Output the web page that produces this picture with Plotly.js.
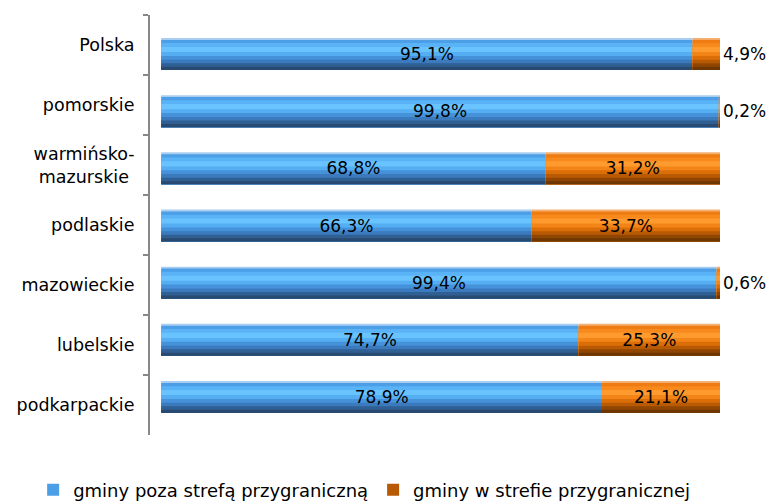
<!DOCTYPE html>
<html>
<head>
<meta charset="utf-8">
<script src="https://cdn.plot.ly/plotly-3.0.1.min.js"></script>
<style>html,body{margin:0;padding:0;background:#fff;}</style>
</head>
<body>
<div id="chart" style="width:770px;height:503px;"></div>
<script>
// ---- data ----
const categories = ["Polska", "pomorskie", "warmińsko-<br>mazurskie\u00a0", "podlaskie", "mazowieckie", "lubelskie", "podkarpackie"];
const outsideZone = [95.1, 99.8, 68.8, 66.3, 99.4, 74.7, 78.9];   // gminy poza strefą przygraniczną
const insideZone  = [4.9, 0.2, 31.2, 33.7, 0.6, 25.3, 21.1];      // gminy w strefie przygranicznej
const seriesNames = ["gminy poza strefą przygraniczną", "gminy w strefie przygranicznej"];

// ---- styling (cylinder-like shading: each layer covers from its top to the bar bottom) ----
const W = 0.56;
const blueStripes = [
  [0.00, "#a8cdf0"], [0.06, "#4c9ee6"], [0.16, "#5ab3f6"],
  [0.28, "#68c3fe"], [0.44, "#55aef2"], [0.56, "#4592da"],
  [0.68, "#3a7abd"], [0.79, "#305f94"], [0.90, "#284a70"]
];
const orangeStripes = [
  [0.00, "#f4b070"], [0.06, "#ee7c12"], [0.16, "#f8891c"],
  [0.28, "#ff9a2e"], [0.44, "#f28418"], [0.56, "#dc6e08"],
  [0.68, "#b85a04"], [0.79, "#904600"], [0.90, "#6e3600"]
];
const fontMain = "DejaVu Sans, sans-serif";

const traces = [];
// dummy trace so that the label axis holds the categories
traces.push({type: "scatter", mode: "markers", x: categories.map(() => null), y: categories,
  yaxis: "y", showlegend: false, hoverinfo: "skip", marker: {opacity: 0}});

function addSeries(vals, base, stripes, name, legendIdx) {
  stripes.forEach((s, i) => {
    const t = {type: "bar", orientation: "h", x: vals, y: categories, yaxis: "y2",
      width: W * (1 - s[0]), offset: -W / 2 + W * s[0],
      marker: {color: s[1], line: {width: 0}},
      name: name, legendgroup: name, showlegend: i === legendIdx, hoverinfo: "skip"};
    if (base) t.base = base;
    traces.push(t);
  });
}
addSeries(outsideZone, null, blueStripes, seriesNames[0], 1);
addSeries(insideZone, outsideZone, orangeStripes, seriesNames[1], 6);

function fmt(v) { return v.toFixed(1).replace(".", ",") + "%"; }
// label traces
traces.push({type: "bar", orientation: "h", x: outsideZone, y: categories, yaxis: "y2",
  width: W, offset: -W / 2, marker: {color: "rgba(0,0,0,0)"},
  text: outsideZone.map(fmt), textposition: outsideZone.map(v => v < 8 ? "outside" : "inside"),
  insidetextanchor: "middle", constraintext: "none", cliponaxis: false,
  textfont: {family: fontMain, size: 17, color: "#000"},
  showlegend: false, hoverinfo: "skip"});
traces.push({type: "bar", orientation: "h", x: insideZone, base: outsideZone, y: categories, yaxis: "y2",
  width: W, offset: -W / 2, marker: {color: "rgba(0,0,0,0)"},
  text: insideZone.map(fmt), textposition: insideZone.map(v => v < 8 ? "outside" : "inside"),
  insidetextanchor: "middle", constraintext: "none", cliponaxis: false,
  textfont: {family: fontMain, size: 17, color: "#000"},
  showlegend: false, hoverinfo: "skip"});

const layout = {
  width: 770, height: 503,
  margin: {l: 150, r: 50, t: 15, b: 68, autoexpand: false},
  paper_bgcolor: "#fff", plot_bgcolor: "#fff",
  barmode: "overlay",
  showlegend: true,
  xaxis: {range: [-2, 100], visible: false, fixedrange: true},
  yaxis: {type: "category", categoryorder: "array", categoryarray: categories,
    range: [6.5, -0.5], showline: true, linecolor: "#888", linewidth: 2,
    ticks: "outside", ticklen: 5, tickwidth: 2, tickcolor: "#888", tickson: "boundaries",
    ticklabelstandoff: 10, showgrid: false, zeroline: false,
    tickfont: {family: fontMain, size: 17.5, color: "#000"}},
  yaxis2: {type: "category", categoryorder: "array", categoryarray: categories,
    overlaying: "y", range: [6.664, -0.682], visible: false, showgrid: false, zeroline: false},
  legend: {orientation: "h", xref: "paper", yref: "paper", x: -0.205, y: -0.131,
    yanchor: "middle", xanchor: "left", traceorder: "normal",
    font: {family: fontMain, size: 18, color: "#000"}, itemclick: false},
  font: {family: fontMain}
};

Plotly.newPlot("chart", traces, layout, {displayModeBar: false, staticPlot: true});
</script>
</body>
</html>
